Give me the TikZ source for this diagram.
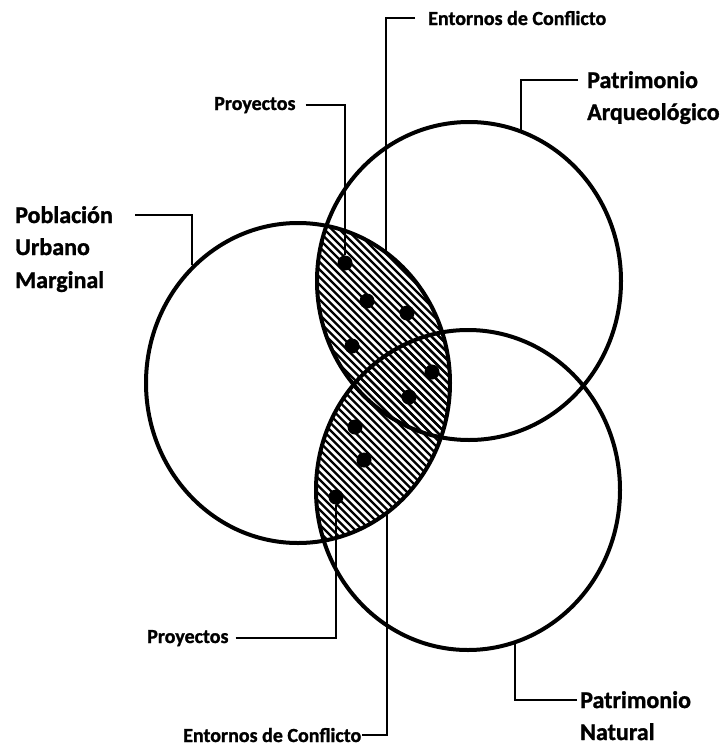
\documentclass[tikz,border=0pt]{standalone}
\usepackage{fontspec}
\setmainfont{Carlito}[BoldFeatures={FakeBold=1.2}]
\usetikzlibrary{shapes.geometric}
\begin{document}
\begin{tikzpicture}[x=1pt,y=-1pt,
  venn/.style={ellipse, draw, line width=4pt, minimum width=304pt, inner sep=0pt},
  dot/.style={circle, fill, inner sep=0pt, minimum size=15pt},
  lbl/.style={font=\bfseries\fontsize{20}{24}\selectfont, inner sep=0pt, anchor=base west},
  big/.style={font=\bfseries\fontsize{24}{32}\selectfont, inner sep=0pt, anchor=base west},
  lead/.style={line width=1.8pt},
  hatch/.style={line width=2.3pt}]
\useasboundingbox (0,0) rectangle (727,747);
% hatching: L intersect A, L intersect N
\begin{scope}
  \clip (298,383) ellipse [x radius=152pt, y radius=160pt];
  \clip (469,281) ellipse [x radius=152pt, y radius=159pt];
  \foreach \c in {-280,-272.5,...,290} \draw[hatch] (\c+100,100) -- (\c+650,650);
\end{scope}
\begin{scope}
  \clip (298,383) ellipse [x radius=152pt, y radius=160pt];
  \clip (468,490) ellipse [x radius=152pt, y radius=160pt];
  \foreach \c in {-280,-272.5,...,290} \draw[hatch] (\c+100,100) -- (\c+650,650);
\end{scope}
% circles
\node[venn, minimum height=320pt] (L) at (298,383) {};
\node[venn, minimum height=318pt] (A) at (469,281) {};
\node[venn, minimum height=320pt] (N) at (468,490) {};
% dots
\node[dot] (d1) at (345,263) {};
\node[dot] (d2) at (367,301) {};
\node[dot] (d3) at (407,313) {};
\node[dot] (d4) at (352,346) {};
\node[dot] (d5) at (432,372) {};
\node[dot] (d6) at (409,397) {};
\node[dot] (d7) at (355,427) {};
\node[dot] (d8) at (364,460) {};
\node[dot] (d9) at (336,497) {};
% labels
\node[lbl] (ent1) at (428,25) {Entornos de Conflicto};
\node[lbl] (pro1) at (214,110) {Proyectos};
\node[lbl] (pro2) at (147,643) {Proyectos};
\node[lbl] (ent2) at (183,742) {Entornos de Conflicto};
\node[big] (pob1) at (15,223) {Población};
\node[big] (pob2) at (15,255) {Urbano};
\node[big] (pob3) at (15,288) {Marginal};
\node[big] (pa1) at (587,88) {Patrimonio};
\node[big] (pa2) at (587,120) {Arqueológico};
\node[big] (pn1) at (580,708) {Patrimonio};
\node[big] (pn2) at (580,740) {Natural};
% connector end points
\coordinate (eT) at (386,253);
\coordinate (eB) at (387,513);
% connectors
\draw[lead] ([xshift=-13pt]ent1.west) -| (eT);
\draw[lead] ([xshift=10pt]pro1.east) -| (d1);
\draw[lead] ([xshift=7pt]pro2.east) -| (d9);
\draw[lead] ([xshift=1pt]ent2.east) -| (eB);
\draw[lead] ([xshift=22pt]pob1.east) -| (L.132);
\draw[lead] ([xshift=-9pt]pa1.west) -| (A.71);
\draw[lead] ([xshift=-3pt]pn1.west) -| (N.-73);
\end{tikzpicture}
\end{document}
